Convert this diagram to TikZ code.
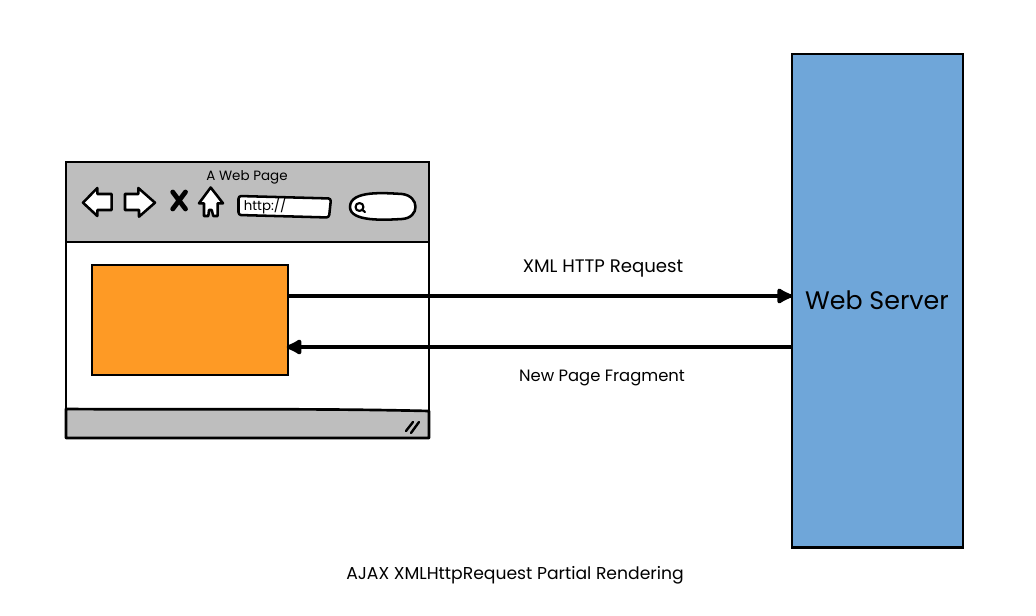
\documentclass[tikz,border=0pt]{standalone}
\usepackage{fontspec}
\setmainfont{Poppins}
\usetikzlibrary{arrows.meta}
\definecolor{barGray}{HTML}{BEBEBE}
\definecolor{fragOrange}{HTML}{FE9A25}
\definecolor{serverBlue}{HTML}{6FA6D9}
\tikzset{
	sketch/.style={draw=black,line width=2pt,line join=round,line cap=round},
	icon/.style={sketch,fill=white,line width=1.9pt},
	box/.style={draw=black,line width=2pt,inner sep=0pt,outer sep=0pt,anchor=north west},
	label/.style={inner sep=0pt,font=\fontsize{12.3}{15}\selectfont},
	flow/.style={line width=3pt,-{Latex[length=14pt,width=14pt,round]}}
}
\begin{document}
\begin{tikzpicture}[x=0.75pt,y=-0.75pt]
	\useasboundingbox (0,0) rectangle (1036,616);
	\node[box,fill=serverBlue,minimum width=128.25pt,minimum height=370pt] (server) at (792,54) {};
	\node[box,fill=white,minimum width=272.25pt,minimum height=207pt] (page) at (66,162) {};
	\node[box,fill=fragOrange,minimum width=147pt,minimum height=82.5pt] (fragment) at (92,265) {};

	\filldraw[sketch,fill=barGray] (66,162) -- (429,162) -- (429,242) -- (66,242) -- cycle;
	\filldraw[sketch,fill=barGray] (66,409) .. controls (200,410) and (300,408) .. (429,411) -- (429,438) -- (66,438) -- cycle;

	\coordinate (requestline) at (0,296);
	\coordinate (replyline) at (0,347);
	\draw[flow] (fragment.east |- requestline) -- (server.west |- requestline);
	\draw[flow,shorten >=-1pt] (server.west |- replyline) -- (fragment.east |- replyline);

	\node[label,font=\fontsize{13.6}{15}\selectfont] (request) at (603,269) {XML HTTP Request};
	\node[label] (reply) at (602,378) {New Page Fragment};
	\node[label,font=\fontsize{12.9}{15}\selectfont] (caption) at (515,575) {AJAX XMLHttpRequest Partial Rendering};
	\node[label,font=\fontsize{10.1}{12}\selectfont] (title) at (247,177) {A Web Page};
	\node[label,font=\fontsize{19}{22}\selectfont] (servername) at (877,300) {Web Server};

	\draw[icon] (83,202.7) -- (97.3,188) -- (97.3,194) -- (111.7,194) -- (111.7,210) -- (97.3,210) -- (97.3,216) -- cycle;
	\draw[icon] (125,194) -- (138.3,194) -- (138.3,188) -- (155,202.7) -- (139,216.7) -- (139,210) -- (125,210) -- cycle;
	\draw[sketch,line width=3.6pt] (172.7,192) -- (185.5,209) (185.5,192) -- (172.7,209);
	\draw[icon] (210.7,187.5) -- (223,203.3) -- (217.7,203.3) -- (217.7,216) -- (213.3,216) -- (211.7,210) -- (209,210) -- (208.3,216) -- (204,216) -- (204,203.3) -- (199,203.3) -- cycle;

	\draw[icon,rounded corners=2pt] (238.5,196) -- (331,198.5) -- (329,217.5) -- (238.5,215) -- cycle;
	\node[label,font=\fontsize{10}{11}\selectfont,anchor=west] (url) at (243.5,206) {http://};

	\draw[icon] (350,207) .. controls (350,190) and (385,193) .. (402,194) .. controls (420,196) and (420,218) .. (402,219) .. controls (385,220) and (350,222) .. (350,207) -- cycle;
	\draw[sketch,line width=1.6pt] (359.5,207) circle (3pt) (361.8,209.5) -- (365,212);

	\draw[sketch,line width=1.8pt] (406,431) -- (413,422) (411,433) -- (419,422);
\end{tikzpicture}
\end{document}
